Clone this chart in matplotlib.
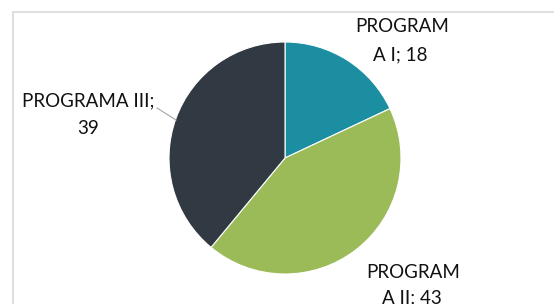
import matplotlib.pyplot as plt
from matplotlib.patches import Rectangle

programs = ["PROGRAMA I", "PROGRAMA II", "PROGRAMA III"]
values = [18, 43, 39]
colors = ["#1b8fa1", "#9bbb59", "#313943"]

# label text as wrapped in the original chart
label_lines = [("PROGRAM", "A I; 18"), ("PROGRAM", "A II; 43"), ("PROGRAMA III;", "39")]

W, H = 554, 304
fig = plt.figure(figsize=(W / 100, H / 100), dpi=100)
ax = fig.add_axes([0, 0, 1, 1])

# chart area border (extends past the cropped image edge)
ax.add_patch(Rectangle((13, -10), W, H - 12 + 10, fill=False,
                       edgecolor="#d9d9d9", linewidth=1.2))

cx, cy, r = 285, H - 158, 116
ax.pie(values, colors=colors, startangle=90, counterclock=False,
       center=(cx, cy), radius=r, frame=True,
       wedgeprops={"edgecolor": "white", "linewidth": 0.8})
ax.set_xlim(0, W)
ax.set_ylim(0, H)
ax.axis("off")

font = dict(family=["Lato", "DejaVu Sans"], fontsize=13.5, color="#111111",
            ha="center", va="center")
label_pos = [(402, 27, 400, 55), (413, 273, 412, 298), (88, 101, 88, 128)]
for (l1, l2), (x1, y1, x2, y2) in zip(label_lines, label_pos):
    ax.text(x1, H - y1, l1, **font)
    ax.text(x2, H - y2, l2, **font)

# leader line for PROGRAMA III
ax.plot([157, 176], [H - 108, H - 120], color="#a6a6a6", linewidth=0.8)

fig.savefig("out.png", dpi=100)
